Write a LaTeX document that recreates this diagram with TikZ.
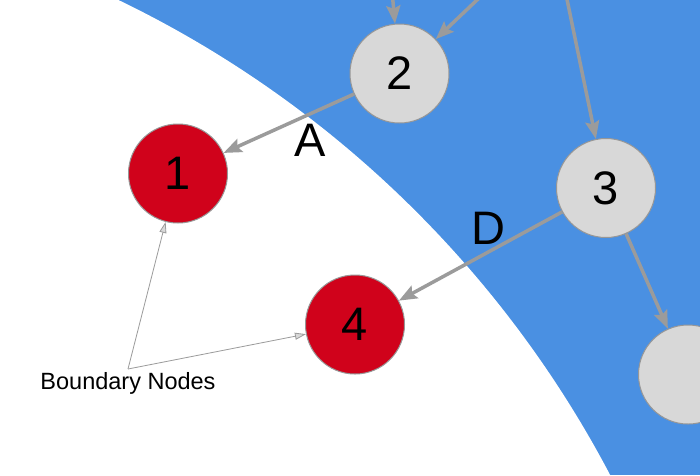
\documentclass[tikz,border=0pt]{standalone}
\usepackage{fontspec}
\setmainfont{Liberation Sans}
\usetikzlibrary{arrows.meta}
\definecolor{skyblue}{HTML}{4A90E2}
\definecolor{nodered}{HTML}{D0021B}
\definecolor{nodegrey}{HTML}{D8D8D8}
\definecolor{nodeborder}{HTML}{979797}
\definecolor{edgegrey}{HTML}{9B9B9B}
\definecolor{tipgrey}{HTML}{D8D8D8}
\begin{document}
\begin{tikzpicture}[x=1pt,y=-1pt,
  gnode/.style={circle,minimum size=99pt,inner sep=0pt,fill=nodegrey,draw=nodeborder,line width=1pt,font=\fontsize{47}{47}\selectfont},
  rnode/.style={gnode,fill=nodered},
  edgearrow/.style={draw=edgegrey,line width=3.5pt,-{Stealth[length=18pt,width=14pt,inset=3pt]}},
  notearrow/.style={draw=edgegrey,line width=0.8pt,-{Triangle[length=11pt,width=7pt,fill=tipgrey]}},
  lbl/.style={inner sep=0pt,font=\fontsize{47}{47}\selectfont},
  note/.style={inner sep=0pt,font=\fontsize{23.5}{23.5}\selectfont}]
\useasboundingbox (0,0) rectangle (700,475);
\clip (0,0) rectangle (700,475);
\fill[skyblue] (0,0) rectangle (700,475);
\fill[white] (-353.5,980.6) circle (1088pt);
% nodes
\node[gnode] (n2) at (399.5,73.5) {2};
\node[gnode] (n3) at (606,188) {3};
\node[rnode] (n1) at (178,173.5) {1};
\node[rnode] (n4) at (355,324.5) {4};
\node[gnode] (n5) at (688,374.5) {};
% off-canvas sources
\coordinate (t1) at (391,-20);
\coordinate (t2) at (492.5,-14.7);
\coordinate (t3) at (563,-20);
% edges
\draw[edgearrow] (t1) -- (n2);
\draw[edgearrow] (t2) -- (n2);
\draw[edgearrow] (t3) -- (n3);
\draw[edgearrow] (n2) -- (n1);
\draw[edgearrow] (n3) -- (n4);
\draw[edgearrow] (n3) -- (n5);
% labels
\node[lbl] (la) at (310,140) {A};
\node[lbl] (ld) at (488,228) {D};
% note
\coordinate (bn) at (128,369);
\node[note] (bt) at (128,383) {Boundary Nodes};
\draw[notearrow] (bn) -- (n1);
\draw[notearrow] (bn) -- (n4);
\end{tikzpicture}
\end{document}
